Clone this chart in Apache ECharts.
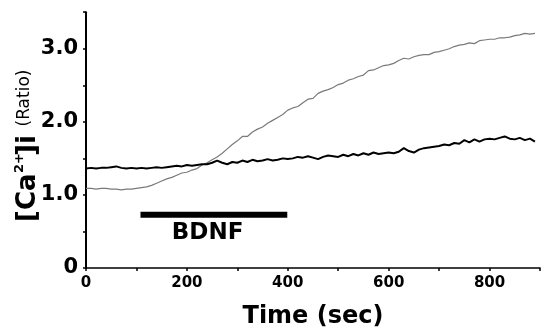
<!DOCTYPE html>
<html><head><meta charset="utf-8">
<script src="https://cdn.jsdelivr.net/npm/echarts@6/dist/echarts.min.js"></script>
<style>html,body{margin:0;padding:0;background:#fff}#c{width:543px;height:334px}</style>
</head><body><div id="c"></div>
<script>
// time (sec), sampled every 10 s
const times = [0,10,20,30,40,50,60,70,80,90,100,110,120,130,140,150,160,170,180,190,200,210,220,230,240,250,260,270,280,290,300,310,320,330,340,350,360,370,380,390,400,410,420,430,440,450,460,470,480,490,500,510,520,530,540,550,560,570,580,590,600,610,620,630,640,650,660,670,680,690,700,710,720,730,740,750,760,770,780,790,800,810,820,830,840,850,860,870,880,890];
// black (thick) trace
const blackTrace = [1.36,1.37,1.36,1.37,1.37,1.38,1.39,1.37,1.36,1.37,
1.36,1.37,1.36,1.37,1.38,1.37,1.38,1.39,1.40,1.39,
1.41,1.40,1.41,1.42,1.42,1.44,1.47,1.44,1.42,1.45,
1.44,1.47,1.45,1.48,1.46,1.47,1.49,1.47,1.48,1.50,
1.49,1.50,1.52,1.51,1.53,1.51,1.49,1.52,1.54,1.53,
1.52,1.55,1.53,1.56,1.54,1.57,1.55,1.58,1.56,1.57,
1.58,1.57,1.59,1.64,1.60,1.58,1.62,1.64,1.65,1.66,
1.67,1.69,1.68,1.71,1.70,1.75,1.72,1.76,1.73,1.76,
1.77,1.76,1.78,1.80,1.77,1.76,1.78,1.75,1.77,1.73];
// gray (thin) trace
const grayTrace = [1.09,1.09,1.08,1.09,1.09,1.08,1.08,1.07,1.08,1.08,
1.09,1.10,1.11,1.13,1.16,1.19,1.22,1.24,1.27,1.30,
1.31,1.34,1.36,1.41,1.44,1.48,1.52,1.57,1.63,1.69,
1.74,1.80,1.80,1.86,1.90,1.93,1.98,2.02,2.06,2.10,
2.16,2.19,2.21,2.26,2.31,2.32,2.39,2.42,2.44,2.47,
2.51,2.53,2.57,2.59,2.62,2.64,2.70,2.71,2.74,2.77,
2.78,2.80,2.84,2.87,2.86,2.89,2.91,2.92,2.92,2.95,
2.96,2.98,3.00,3.03,3.05,3.06,3.08,3.07,3.11,3.12,
3.13,3.13,3.15,3.15,3.16,3.18,3.19,3.21,3.20,3.21];
// BDNF application bar
const bdnfStart = 108, bdnfEnd = 399, bdnfLevel = 0.73;
const bdnfLabel = 'BDNF', bdnfLabelPos = [241, 0.475];
const xTicks = [0,200,400,600,800];
const yTickLabels = {0:'0',1:'1.0',2:'2.0',3:'3.0'};

const FONT = '"DejaVu Sans", sans-serif';
const R = Math.PI / 2;
const chart = echarts.init(document.getElementById('c'));
chart.setOption({
  animation: false,
  backgroundColor: '#fff',
  grid: {left: 86, top: 12.2, width: 462, height: 257.8},
  xAxis: {
    type: 'value', min: 0, max: 900, interval: 100,
    axisLine: {lineStyle: {color: '#000', width: 1.5}},
    axisTick: {inside: false, length: 3, lineStyle: {color: '#000', width: 1.5}},
    splitLine: {show: false},
    axisLabel: {color: '#000', fontFamily: FONT, fontWeight: 'bold', fontSize: 15, margin: 8,
      formatter: v => xTicks.includes(v) ? String(v) : ''},
    name: 'Time (sec)', nameLocation: 'middle', nameGap: 37,
    nameTextStyle: {color: '#000', fontFamily: FONT, fontWeight: 'bold', fontSize: 24, verticalAlign: 'top'}
  },
  yAxis: {
    type: 'value', min: 0, max: 3.5, interval: 0.5,
    axisLine: {show: true, lineStyle: {color: '#000', width: 2}},
    axisTick: {show: true, length: 3, lineStyle: {color: '#000', width: 1.5}},
    splitLine: {show: false},
    axisLabel: {color: '#000', fontFamily: FONT, fontWeight: 'bold', fontSize: 21, margin: 8,
      formatter: v => Math.abs(v - Math.round(v)) < 1e-9 && yTickLabels[Math.round(v)] !== undefined ? yTickLabels[Math.round(v)] : ''}
  },
  graphic: [
    {type: 'text', x: 28, y: 222, rotation: R,
      style: {text: '[Ca', align: 'left', verticalAlign: 'middle',
        fontFamily: FONT, fontWeight: 'bold', fontSize: 26, fill: '#000'}},
    {type: 'text', x: 20, y: 173, rotation: R,
      style: {text: '2+', align: 'left', verticalAlign: 'middle',
        fontFamily: FONT, fontWeight: 'bold', fontSize: 13, fill: '#000'}},
    {type: 'text', x: 28, y: 156, rotation: R,
      style: {text: ']i', align: 'left', verticalAlign: 'middle',
        fontFamily: FONT, fontWeight: 'bold', fontSize: 26, fill: '#000'}},
    {type: 'text', x: 25, y: 98, rotation: R,
      style: {text: '(Ratio)', align: 'center', verticalAlign: 'middle',
        fontFamily: FONT, fontSize: 17, fill: '#000'}}
  ],
  series: [
    {type: 'line', data: times.map((t, i) => [t, grayTrace[i]]), showSymbol: false,
      lineStyle: {color: '#7a7a7a', width: 1.2}},
    {type: 'line', data: times.map((t, i) => [t, blackTrace[i]]), showSymbol: false,
      lineStyle: {color: '#000', width: 2}},
    {type: 'line', data: [[bdnfStart, bdnfLevel], [bdnfEnd, bdnfLevel]], showSymbol: false,
      lineStyle: {color: '#000', width: 6, cap: 'butt'}},
    {type: 'scatter', data: [bdnfLabelPos], symbolSize: 0, itemStyle: {opacity: 1},
      label: {show: true, position: 'inside', formatter: bdnfLabel, color: '#000', opacity: 1,
        fontFamily: FONT, fontWeight: 'bold', fontSize: 23}}
  ]
});
</script></body></html>
